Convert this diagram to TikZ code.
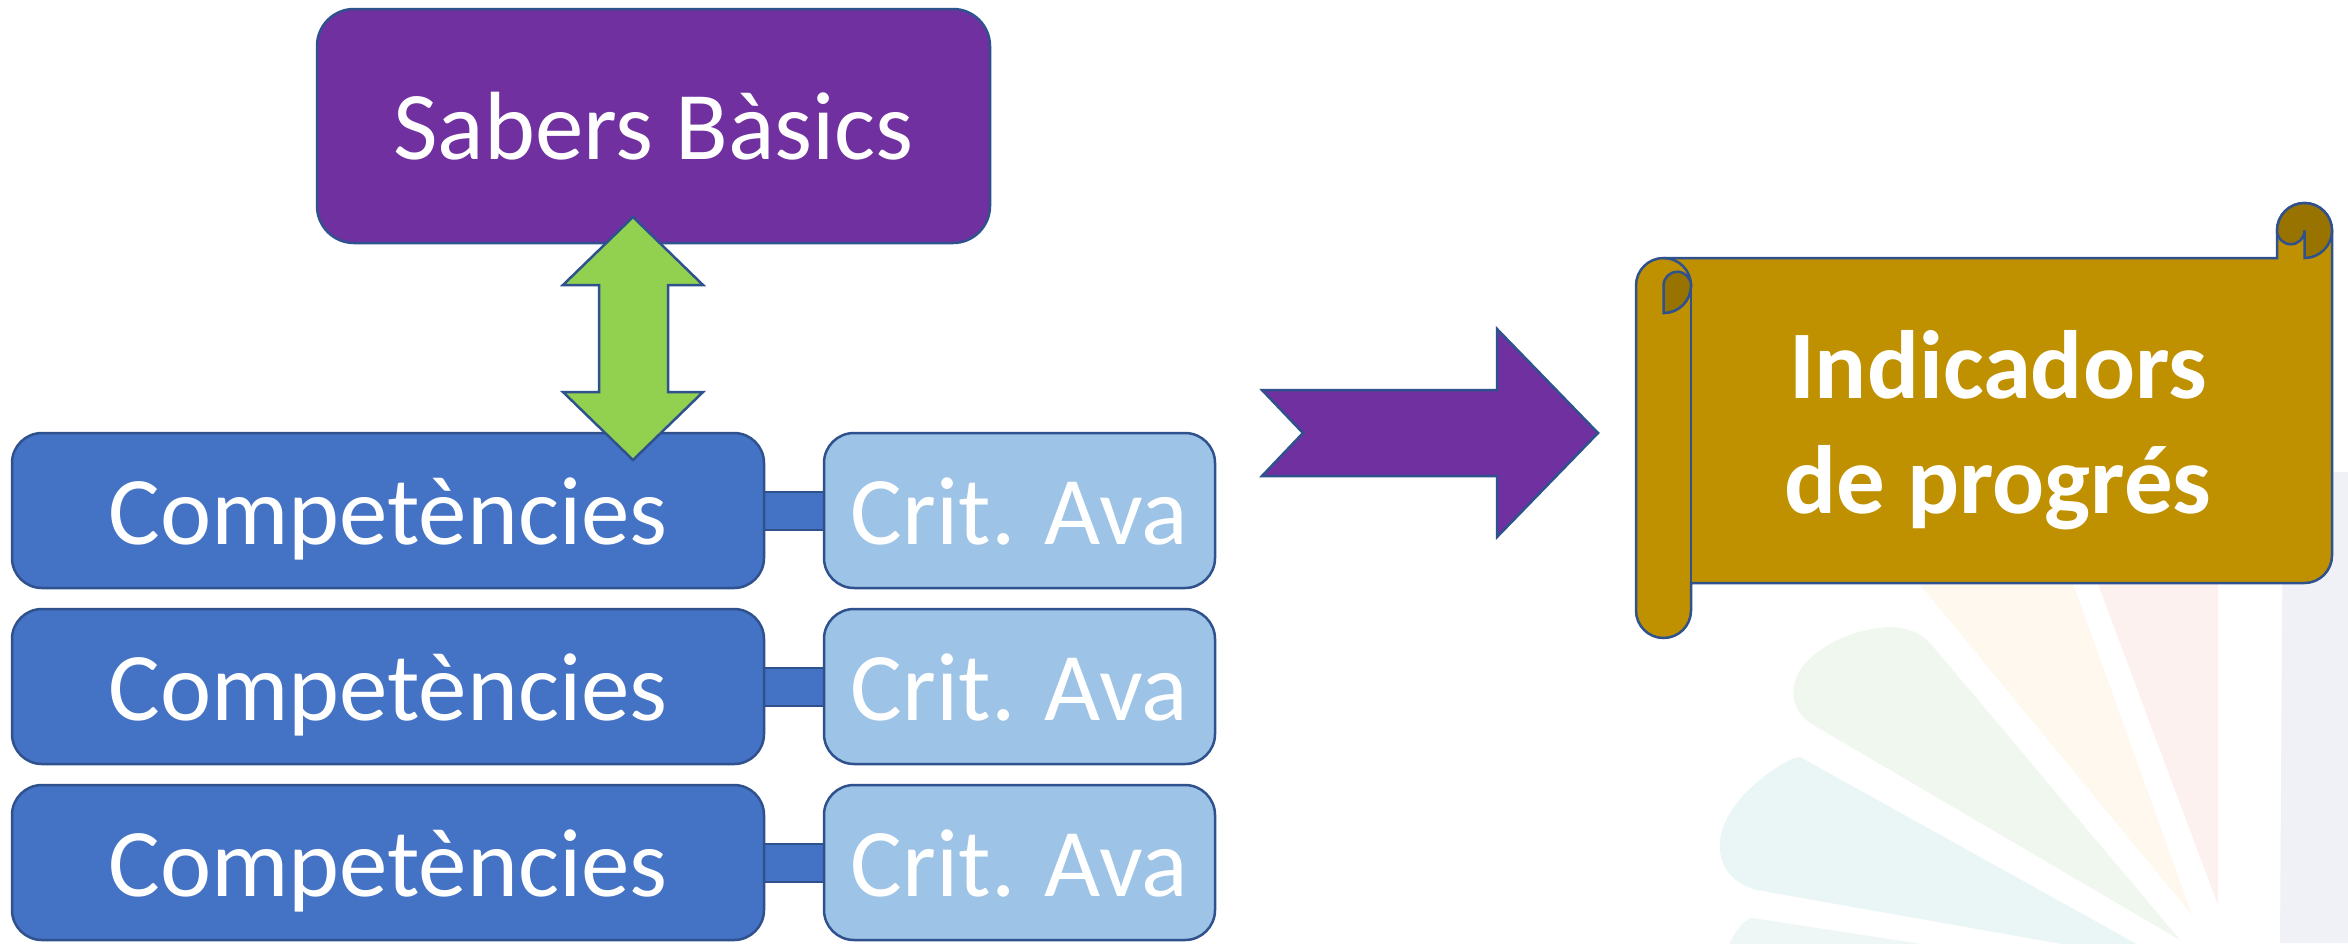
\documentclass[tikz,border=0pt]{standalone}
\usepackage{fontspec}
\setmainfont{Carlito}
\usetikzlibrary{backgrounds}
\definecolor{purp}{HTML}{7030A0}
\definecolor{grn}{HTML}{92D050}
\definecolor{blu}{HTML}{4472C4}
\definecolor{lblu}{HTML}{9DC3E6}
\definecolor{gold}{HTML}{BF9000}
\definecolor{dgold}{HTML}{997300}
\definecolor{outline}{HTML}{2F528F}
\definecolor{wmred}{HTML}{FCF1EE}
\definecolor{wmorange}{HTML}{FFF8EE}
\definecolor{wmgreen}{HTML}{F0F7EF}
\definecolor{wmcyan}{HTML}{E9F6F5}
\definecolor{wmgray}{HTML}{EEF6F6}
\definecolor{wmlav}{HTML}{F0F0F7}
\begin{document}
\begin{tikzpicture}[x=1pt,y=-1pt,
  outl/.style={draw=outline, line width=2.5pt},
  bigtext/.style={text=white, font=\fontsize{97}{116}\selectfont, text height=67pt, text depth=0pt},
  cbox/.style={outl, bigtext, rounded corners=30pt, inner sep=0pt, minimum height=155pt},
  compbox/.style={cbox, fill=blu, minimum width=752pt},
  critbox/.style={cbox, fill=lblu, minimum width=391pt},
  sabbox/.style={outl, bigtext, fill=purp, rounded corners=37pt, inner sep=0pt, minimum width=673pt, minimum height=234pt},
  linkbar/.style={draw=outline, line width=2pt, double=blu, double distance=36pt},
  blockarrow/.style={outl, line join=miter}
]
\useasboundingbox (0,0) rectangle (2348,943);

\begin{pgfonlayer}{background}
\fill[white] (0,0) rectangle (2348,943);
% faint background watermark
\begin{scope}
\clip (0,0) rectangle (2348,943);
\fill[wmlav] (2283,480) .. controls (2283,475) and (2286,472) .. (2291,472) -- (2348,472) -- (2348,943) -- (2280,943) -- cycle;
\fill[wmred] (2089,560) -- (2218,560) -- (2218,905) -- cycle;
\fill[wmorange] (1915,575) -- (2070,575) -- (2192,915) -- (1926,592) .. controls (1920,586) and (1917,580) .. (1915,575) -- cycle;
\fill[wmgreen] (1930,643) -- (2180,940) -- (1810,723) .. controls (1790,708) and (1790,688) .. (1800,670)
   .. controls (1820,642) and (1860,628) .. (1890,627) .. controls (1905,627) and (1920,632) .. (1930,643) -- cycle;
\fill[wmcyan] (1800,757) -- (2151,952) -- (2107,952) -- (1757,890) .. controls (1728,882) and (1718,862) .. (1720,840)
   .. controls (1726,800) and (1770,770) .. (1790,760) .. controls (1794,758) and (1797,757) .. (1800,757) -- cycle;
\fill[wmgray] (1727,950) .. controls (1733,935) and (1740,922) .. (1752,918) -- (1960,950) -- cycle;
\end{scope}
\end{pgfonlayer}

% boxes
\node[sabbox] (sab) at (653.5,126) {Sabers Bàsics};
\node[compbox] (c1) at (388,510.5) {Competències};
\node[compbox] (c2) at (388,686.5) {Competències};
\node[compbox] (c3) at (388,862.5) {Competències};
\node[critbox] (k1) at (1019.5,510.5) {Crit. Ava};
\node[critbox] (k2) at (1019.5,686.5) {Crit. Ava};
\node[critbox] (k3) at (1019.5,862.5) {Crit. Ava};

\begin{pgfonlayer}{background}
\draw[linkbar] (c1) -- (k1);
\draw[linkbar] (c2) -- (k2);
\draw[linkbar] (c3) -- (k3);
\end{pgfonlayer}

% green up-down arrow
\path[blockarrow, fill=grn] (633,217) -- (703,285) -- (668,285) -- (668,392) -- (703,392) -- (633,460)
  -- (563,392) -- (599,392) -- (599,285) -- (563,285) -- cycle;

% purple notched arrow
\path[blockarrow, fill=purp] (1262,390) -- (1497,390) -- (1497,329) -- (1598,433) -- (1497,537) -- (1497,476)
  -- (1262,476) -- (1303,433) -- cycle;

% scroll
\path[outl, fill=gold] (2277,230.5) arc[start angle=180, end angle=360, radius=27.5]
  -- (2332,555.5) arc[start angle=0, end angle=90, radius=27.5]
  -- (1691,583) -- (1691,610.5) arc[start angle=0, end angle=180, radius=27.5]
  -- (1636,285.5) arc[start angle=180, end angle=270, radius=27.5]
  -- (2277,258) -- cycle;
\draw[outl] (1663.5,258) arc[start angle=270, end angle=450, radius=27.5];
\path[outl, fill=dgold] (1663.5,285.5) arc[start angle=180, end angle=360, radius=13.75]
  arc[start angle=0, end angle=90, radius=27.5] -- cycle;
\draw[outl] (1691,285.5) -- (1691,583);
\path[outl, fill=dgold] (2277,230.5) arc[start angle=180, end angle=360, radius=27.5]
  arc[start angle=0, end angle=90, radius=27.5] -- (2304.5,230.5)
  arc[start angle=0, end angle=180, radius=13.75] -- cycle;

\node[text=white, font=\bfseries\fontsize{97}{115}\selectfont, align=center, inner sep=0pt] (ind) at (1998,430) {Indicadors\\de progrés};
\end{tikzpicture}
\end{document}
